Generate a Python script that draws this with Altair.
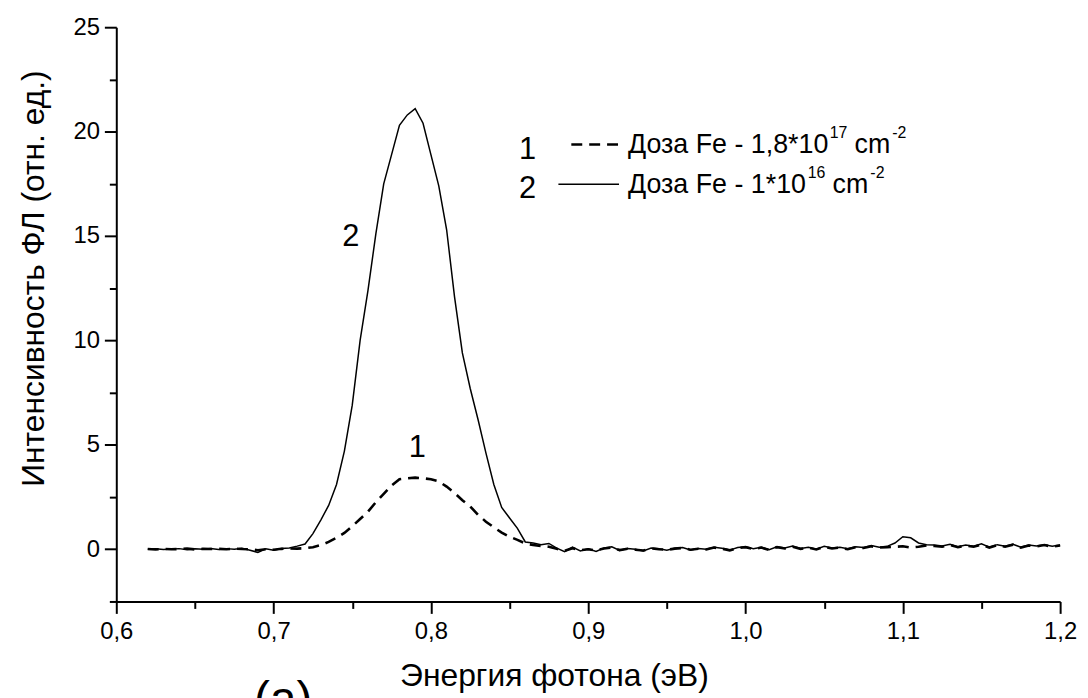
import altair as alt
import pandas as pd

FONT = "Liberation Sans"

energy = [
    0.620, 0.625, 0.630, 0.635, 0.640, 0.645, 0.650, 0.655, 0.660, 0.665,
    0.670, 0.675, 0.680, 0.685, 0.690, 0.695, 0.700, 0.705, 0.710, 0.715,
    0.720, 0.725, 0.730, 0.735, 0.740, 0.745, 0.750, 0.755, 0.760, 0.765,
    0.770, 0.775, 0.780, 0.785, 0.790, 0.795, 0.800, 0.805, 0.810, 0.815,
    0.820, 0.825, 0.830, 0.835, 0.840, 0.845, 0.850, 0.855, 0.860, 0.865,
    0.870, 0.875, 0.880, 0.885, 0.890, 0.895, 0.900, 0.905, 0.910, 0.915,
    0.920, 0.925, 0.930, 0.935, 0.940, 0.945, 0.950, 0.955, 0.960, 0.965,
    0.970, 0.975, 0.980, 0.985, 0.990, 0.995, 1.000, 1.005, 1.010, 1.015,
    1.020, 1.025, 1.030, 1.035, 1.040, 1.045, 1.050, 1.055, 1.060, 1.065,
    1.070, 1.075, 1.080, 1.085, 1.090, 1.095, 1.100, 1.105, 1.110, 1.115,
    1.120, 1.125, 1.130, 1.135, 1.140, 1.145, 1.150, 1.155, 1.160, 1.165,
    1.170, 1.175, 1.180, 1.185, 1.190, 1.195, 1.200,
]

# curve 2: dose 1e16 (solid)
intensity_2 = [
    0.00, 0.02, -0.01, 0.01, 0.03, -0.02, 0.02, 0.00, 0.04, -0.01,
    0.03, 0.00, 0.05, -0.05, -0.15, 0.02, -0.05, 0.04, 0.06, 0.15,
    0.25, 0.75, 1.40, 2.10, 3.10, 4.70, 6.90, 10.0, 12.4, 15.1,
    17.5, 18.9, 20.3, 20.8, 21.1, 20.4, 18.9, 17.4, 15.3, 12.1,
    9.4, 7.7, 6.2, 4.6, 3.1, 2.0, 1.5, 1.0, 0.35, 0.30,
    0.22, 0.28, 0.05, -0.12, 0.10, -0.08, 0.02, -0.10, 0.06, 0.12,
    -0.06, 0.04, 0.00, -0.08, 0.06, 0.02, -0.05, 0.05, 0.08, -0.03,
    0.04, 0.00, 0.10, 0.05, -0.04, 0.08, 0.12, 0.03, 0.10, -0.02,
    0.12, 0.06, 0.15, 0.04, 0.10, 0.00, 0.14, 0.06, 0.10, 0.02,
    0.12, 0.08, 0.18, 0.10, 0.14, 0.30, 0.60, 0.55, 0.30, 0.22,
    0.20, 0.16, 0.24, 0.12, 0.20, 0.15, 0.26, 0.10, 0.22, 0.14,
    0.24, 0.10, 0.20, 0.16, 0.22, 0.14, 0.20,
]

# curve 1: dose 1.8e17 (dashed)
intensity_1 = [
    0.01, -0.01, 0.02, 0.00, 0.01, 0.03, -0.01, 0.02, 0.01, 0.02,
    0.00, 0.03, 0.01, 0.00, -0.05, 0.00, -0.02, 0.02, 0.04, 0.03,
    0.05, 0.10, 0.20, 0.35, 0.55, 0.78, 1.10, 1.45, 1.80, 2.25,
    2.65, 3.05, 3.35, 3.40, 3.43, 3.40, 3.35, 3.25, 3.00, 2.70,
    2.35, 2.05, 1.65, 1.32, 1.05, 0.80, 0.60, 0.45, 0.28, 0.20,
    0.15, 0.12, 0.02, -0.08, 0.05, -0.05, 0.00, -0.06, 0.04, 0.08,
    -0.04, 0.02, -0.02, -0.06, 0.04, 0.00, -0.03, 0.03, 0.06, -0.02,
    0.02, -0.01, 0.08, 0.03, -0.05, 0.06, 0.10, 0.01, 0.08, -0.03,
    0.10, 0.04, 0.12, 0.02, 0.08, -0.01, 0.12, 0.04, 0.08, 0.00,
    0.10, 0.06, 0.14, 0.08, 0.10, 0.12, 0.14, 0.08, 0.12, 0.18,
    0.16, 0.12, 0.20, 0.10, 0.18, 0.12, 0.22, 0.08, 0.20, 0.12,
    0.22, 0.08, 0.18, 0.14, 0.20, 0.12, 0.18,
]

# major + minor tick positions
x_ticks = [0.6, 0.65, 0.7, 0.75, 0.8, 0.85, 0.9, 0.95, 1.0, 1.05, 1.1, 1.15, 1.2]
y_ticks = [-2.5, 0, 2.5, 5, 7.5, 10, 12.5, 15, 17.5, 20, 22.5, 25]

df2 = pd.DataFrame({"E": energy, "I": intensity_2})
df1 = pd.DataFrame({"E": energy, "I": intensity_1})

xscale = alt.Scale(domain=[0.6, 1.2], nice=False, zero=False)
yscale = alt.Scale(domain=[-2.5, 25], nice=False, zero=False)

X_MAJOR = "abs(datum.value * 10 - round(datum.value * 10)) < 0.001"
Y_MAJOR = "datum.value % 5 === 0"

axis_common = dict(
    grid=False, domainColor="black", domainWidth=2, tickColor="black",
    tickWidth=2, labelColor="black", labelFont=FONT, labelFontSize=24,
    title=None, labelFlush=False, labelOverlap=False,
)

solid = alt.Chart(df2).mark_line(color="black", strokeWidth=1.5).encode(
    x=alt.X("E:Q", scale=xscale, axis=alt.Axis(
        orient="bottom", values=x_ticks, labelPadding=6,
        tickSize={"condition": {"test": X_MAJOR, "value": 12}, "value": 7},
        labelExpr=X_MAJOR + " ? replace(format(datum.value, '.1f'), '.', ',') : ''",
        **axis_common)),
    y=alt.Y("I:Q", scale=yscale, axis=alt.Axis(
        orient="left", values=y_ticks, labelPadding=5,
        tickSize={"condition": {"test": Y_MAJOR, "value": 12}, "value": 7},
        labelExpr=Y_MAJOR + " ? format(datum.value, 'd') : ''",
        **axis_common)),
)

dashed = alt.Chart(df1).mark_line(
    color="black", strokeWidth=2.6, strokeDash=[11, 7]
).encode(
    x=alt.X("E:Q", scale=xscale),
    y=alt.Y("I:Q", scale=yscale),
)


def txt(text, x, y, size, align="left", baseline="alphabetic", angle=0):
    kw = dict(text=text, font=FONT, fontSize=size, color="black",
              align=align, baseline=baseline)
    if angle:
        kw["angle"] = angle
    return alt.Chart(alt.Data(values=[{"k": 0}])).mark_text(**kw).encode(
        x=alt.value(x), y=alt.value(y))


def rule(x1, x2, y, width, dash=None):
    kw = dict(color="black", strokeWidth=width)
    if dash:
        kw["strokeDash"] = dash
    return alt.Chart(alt.Data(values=[{"k": 0}])).mark_rule(**kw).encode(
        x=alt.value(x1), x2=alt.value(x2), y=alt.value(y))


annotations = [
    # axis titles
    txt("Энергия фотона (эВ)", 441, 663, 32, align="center"),
    txt("Интенсивность ФЛ (отн. ед.)", -83, 253, 32, align="center",
        baseline="middle", angle=270),
    # curve labels
    txt("2", 236, 220, 31, align="center"),
    txt("1", 303, 433, 31, align="center"),
    # legend row 1
    txt("1", 414, 133, 31, align="center"),
    rule(458, 508, 118, 2.6, dash=[11, 7]),
    txt("Доза Fe - 1,8*10", 515, 127, 27),
    txt("17", 718, 112, 16),
    txt("cm", 743, 127, 27),
    txt("-2", 781, 112, 16),
    # legend row 2
    txt("2", 414, 172, 31, align="center"),
    rule(445, 506, 158, 1.5),
    txt("Доза Fe - 1*10", 515, 167, 27),
    txt("16", 696, 152, 16),
    txt("cm", 721, 167, 27),
    txt("-2", 759, 152, 16),
    # panel label (clipped at the bottom of the page, as in the reference)
    txt("(a)", 168, 692, 48, align="center"),
]

chart = alt.layer(solid, dashed, *annotations).properties(
    width=950, height=578,
    padding={"left": 109, "top": 17, "right": 20, "bottom": 120},
    autosize=alt.AutoSizeParams(type="none"),
).configure(
    font=FONT, background="white", view=alt.ViewConfig(stroke=None)
)

chart.save("out.html", embed_options={"renderer": "svg", "actions": False})
